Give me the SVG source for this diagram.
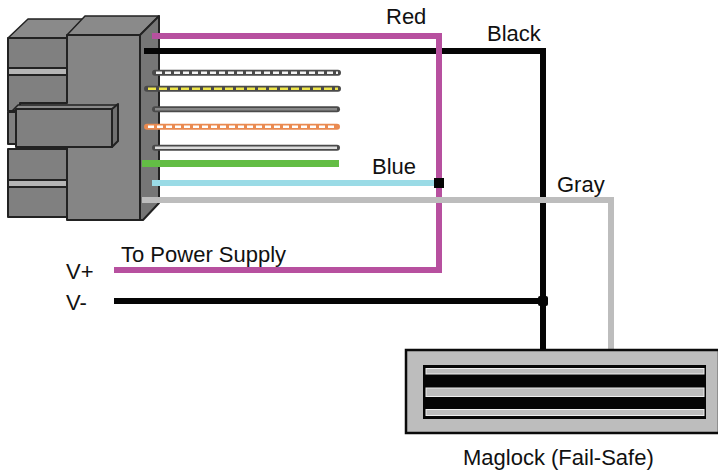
<svg xmlns="http://www.w3.org/2000/svg" width="718" height="470" viewBox="0 0 718 470">
<style>
text{font-family:"Liberation Sans",Arial,sans-serif;font-size:22px;fill:#111}
.b{fill:#808080;stroke:#222;stroke-width:2;stroke-linejoin:round}
.t{fill:#8a8a8a;stroke:#222;stroke-width:1.500;stroke-linejoin:round}
.w{fill:none;stroke-width:6}
.s{fill:none;stroke:#4a4a4a;stroke-width:6;stroke-linecap:round}
.i{fill:none;stroke-width:2.500}
.l{fill:#bdbdbd;stroke:#eee;stroke-width:1}
</style>
<rect width="718" height="470" fill="#fff"/>
<g id="connector-block">
<path class="t" d="M8 38L28 19H83L67 36V38Z"/>
<path class="t" d="M67 35L85 16H159L140 35Z"/>
<path class="b" d="M140 35L159 16V203L143 220H140Z" style="fill:#767676"/>
<rect class="b" x="8" y="38" width="59" height="30"/>
<rect class="b" x="8" y="75" width="59" height="36"/>
<rect class="b" x="8" y="149" width="59" height="31"/>
<rect class="b" x="8" y="187" width="59" height="30"/>
<path class="b" d="M8 68H67V75H8Z" style="fill:#b5b5b5"/>
<path class="b" d="M8 180H67V187H8Z" style="fill:#b5b5b5"/>
<rect class="b" x="8" y="112" width="9" height="32"/>
<path class="b" d="M67 35H140V220H67V147H20V103H67Z" style="fill:#858585"/>
<path class="t" d="M11 112L18 105H118L112 110H16Z"/>
<rect class="b" x="16" y="109" width="96" height="38"/>
<path class="b" d="M112 109L118 104V141L112 147Z" style="fill:#707070"/>
</g>
<g id="loose-wires">
<path class="s" d="M155 72.700H338"/>
<path class="i" d="M156 72.700H338" stroke="#f4f4f4" stroke-dasharray="6 3"/>
<path class="s" d="M147 88.700H338"/>
<path class="i" d="M148 88.700H338" stroke="#efe64a" stroke-dasharray="8 3"/>
<path class="s" d="M155 109.300H337"/>
<path class="i" d="M155 109.300H337" stroke="#888"/>
<path class="s" style="stroke:#ea8a50" d="M147 126.700H337"/>
<path class="i" d="M148 126.700H337" stroke="#fff" stroke-dasharray="6 3"/>
<path class="s" d="M155 147.700H337"/>
<path class="i" d="M155 147.700H337" stroke="#ddd"/>
<path d="M142 163.500H339" fill="none" stroke="#63bd45" stroke-width="7"/>
</g>
<g id="connectors">
<path class="w" d="M144 51H543V350" stroke="#050505"/>
<path class="w" d="M152 36H439V270H114" stroke="#b7509f"/>
<path class="w" d="M142 200H611V350" stroke="#bdbdbd"/>
<path class="w" d="M152 183H439" stroke="#9adbe6"/>
<rect x="434" y="178" width="10" height="10" fill="#050505"/>
<path class="w" d="M114 301H543" stroke="#050505"/>
<rect x="538" y="296" width="10" height="10" rx="2" fill="#050505"/>
</g>
<g id="maglock">
<rect x="406" y="350" width="313" height="83" fill="#bdbdbd" stroke="#0a0a0a" stroke-width="2.500"/>
<rect x="423" y="365" width="283" height="54" fill="#050505"/>
<rect class="l" x="426" y="368.500" width="278" height="5.500"/>
<rect class="l" x="426" y="388" width="278" height="8.500"/>
<rect class="l" x="426" y="409.500" width="278" height="6"/>
</g>
<g id="labels">
<text x="386" y="24">Red</text>
<text x="487" y="41">Black</text>
<text x="372" y="174">Blue</text>
<text x="557" y="192">Gray</text>
<text x="121" y="262">To Power Supply</text>
<text x="66" y="279">V+</text>
<text x="66" y="310">V-</text>
<text x="463" y="465">Maglock (Fail-Safe)</text>
</g>
</svg>
